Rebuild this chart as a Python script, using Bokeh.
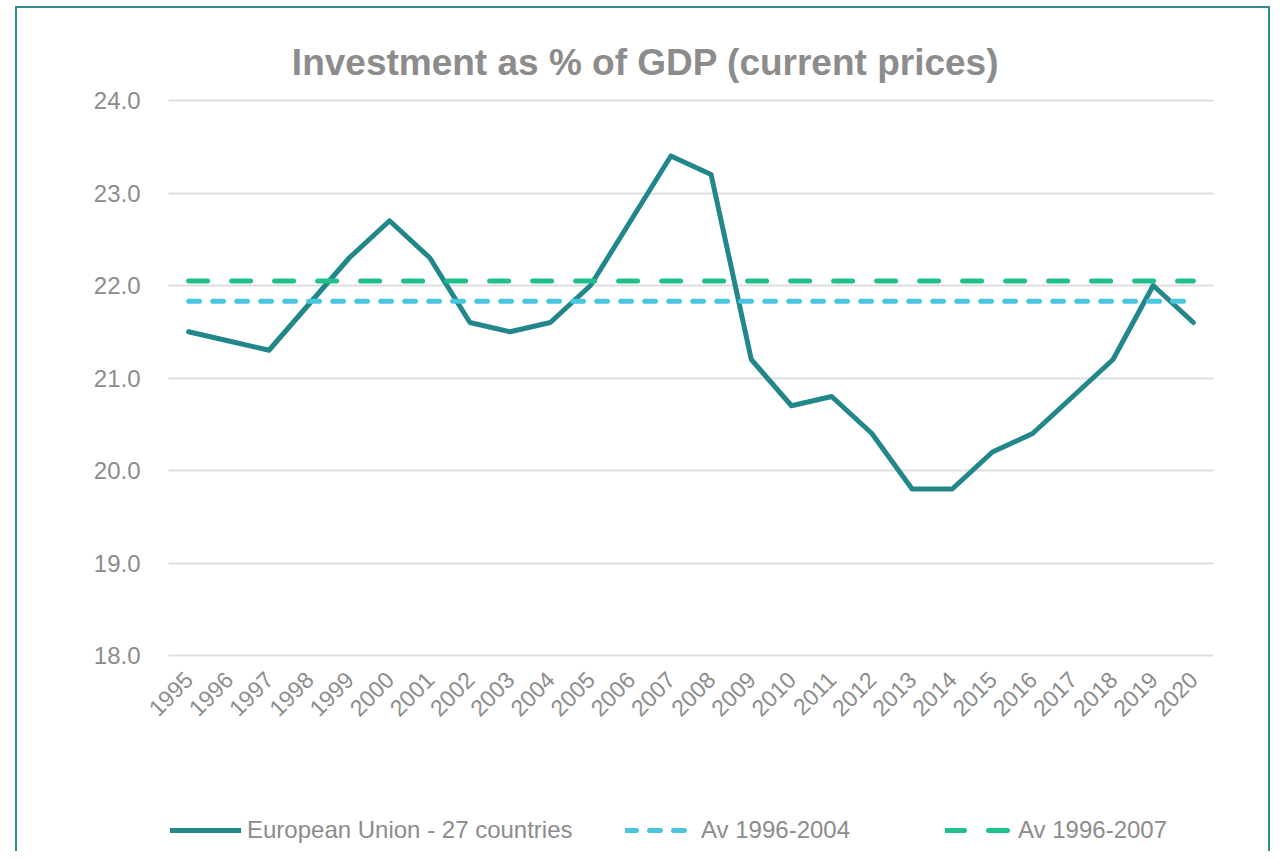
from bokeh.plotting import figure
from bokeh.models import Legend, LegendItem, Label, FactorRange, Range1d
from bokeh.embed import file_html
from bokeh.resources import INLINE
import math

years = [str(y) for y in range(1995, 2021)]
eu27 = [21.5, 21.4, 21.3, 21.8, 22.3, 22.7, 22.3, 21.6, 21.5, 21.6, 22.0, 22.7, 23.4,
        23.2, 21.2, 20.7, 20.8, 20.4, 19.8, 19.8, 20.2, 20.4, 20.8, 21.2, 22.0, 21.6]
av_1996_2004 = 21.83
av_1996_2007 = 22.05
y_ticks = [18, 19, 20, 21, 22, 23, 24]
series_names = ["European Union - 27 countries", "Av 1996-2004", "Av 1996-2007"]
title_text = "Investment as % of GDP (current prices)"

FONT = "Liberation Sans"
GRAY = "#8c8c8c"
TEAL = "#21878a"
BLUE = "#4bc6df"
GREEN = "#1fc08a"
BORDER = "#2a8e90"

# layout in pixels
FRAME_H = 845
PX_PER_UNIT = 555 / 6             # vertical px per percentage point
PX_PER_YEAR = 1045 / len(years)   # horizontal px per category
PAD = 28                          # extra px each side so rotated labels are not clipped
y_lo = 18 - 198 / PX_PER_UNIT
y_hi = 24 + 92 / PX_PER_UNIT

x_range = FactorRange(*years, range_padding=PAD / PX_PER_YEAR, range_padding_units="absolute")
p = figure(x_range=x_range, y_range=Range1d(y_lo, y_hi), width=1255, height=FRAME_H,
           output_backend="svg", toolbar_location=None,
           min_border_left=151 - PAD, min_border_right=59 - PAD, min_border_top=0, min_border_bottom=0)
p.styles = {"margin-top": "6px", "margin-left": "15px", "border-left": f"2px solid {BORDER}",
            "border-right": f"2px solid {BORDER}", "border-top": f"2px solid {BORDER}"}
p.outline_line_color = None
p.xgrid.grid_line_color = None
p.ygrid.grid_line_color = "#dedede"
p.ygrid.grid_line_width = 2
p.ygrid.cross_bounds = (0, len(years))

p.yaxis.ticker = y_ticks
p.yaxis.major_label_overrides = {v: f"{v:.1f}" for v in y_ticks}
p.xaxis.fixed_location = y_ticks[0]
for ax in (p.xaxis, p.yaxis):
    ax.axis_line_color = None
    ax.major_tick_line_color = None
    ax.minor_tick_line_color = None
    ax.major_label_text_color = GRAY
    ax.major_label_text_font = FONT
p.yaxis.major_label_text_font_size = "24px"
p.yaxis.major_label_standoff = 22 - PAD
p.xaxis.major_label_text_font_size = "23px"
p.xaxis.major_label_orientation = math.pi / 4
p.xaxis.major_label_standoff = 14

r1 = p.line(years, eu27, line_color=TEAL, line_width=5, line_join="round", line_cap="round")
r2 = p.line(years, [av_1996_2004] * len(years), line_color=BLUE, line_width=5,
            line_dash="11 13", line_cap="round")
r3 = p.line(years, [av_1996_2007] * len(years), line_color=GREEN, line_width=5,
            line_dash="19 24", line_cap="round")

title = Label(x=477 + PAD, y=FRAME_H - 54, x_units="screen", y_units="screen", text=title_text,
              text_align="center", text_baseline="alphabetic", text_font=FONT,
              text_font_size="37px", text_font_style="bold", text_color=GRAY)
p.add_layout(title)

for name, r, vx, gw in [(series_names[0], r1, 2, 71), (series_names[1], r2, 457, 70),
                        (series_names[2], r3, 777, 67)]:
    lg = Legend(items=[LegendItem(label=name, renderers=[r])], location=(vx + PAD, 9),
                orientation="horizontal", glyph_width=gw, glyph_height=24, label_height=24,
                label_standoff=6, padding=0, margin=0, border_line_color=None,
                background_fill_alpha=0, label_text_font=FONT, label_text_font_size="24px",
                label_text_color=GRAY)
    p.add_layout(lg, "center")

open("out.html", "w").write(file_html(p, INLINE))
